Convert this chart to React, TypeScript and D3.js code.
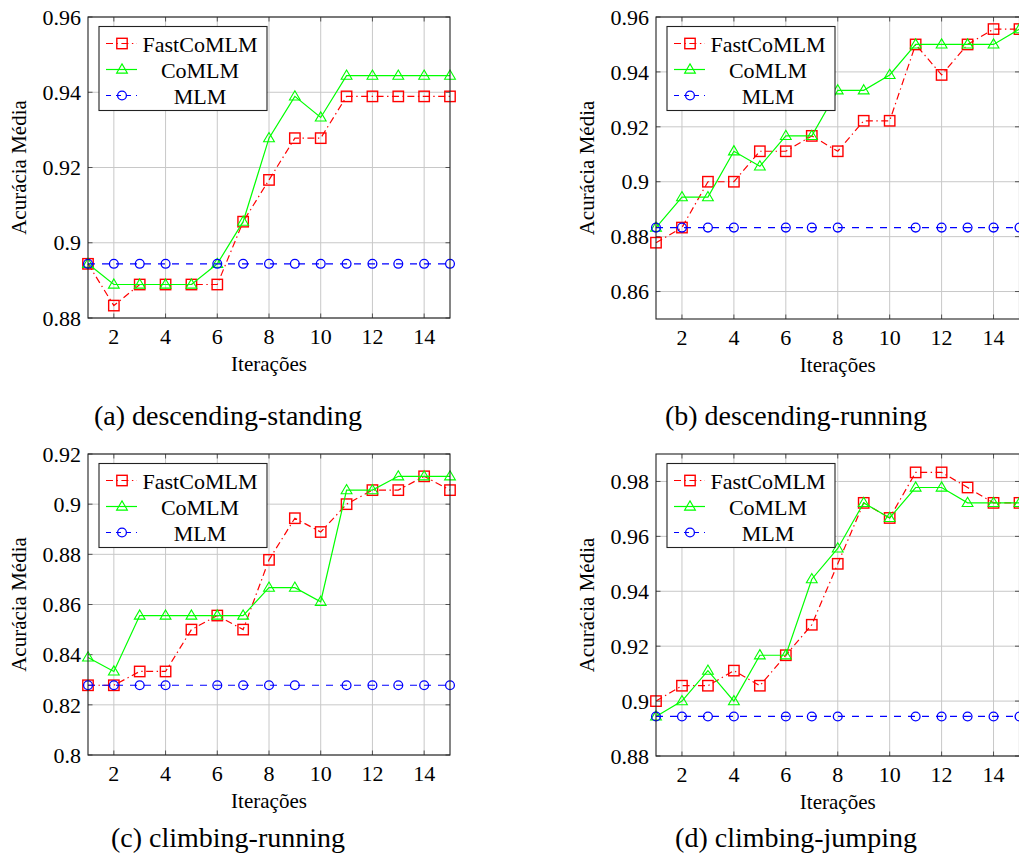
import React from "react";
import * as d3 from "d3";

const iterations = [1, 2, 3, 4, 5, 6, 7, 8, 9, 10, 11, 12, 13, 14, 15];
const xTicks = [2, 4, 6, 8, 10, 12, 14];
const seriesNames = ["FastCoMLM", "CoMLM", "MLM"];

// (a) descending-standing
const fastA = [0.8944, 0.8833, 0.8889, 0.8889, 0.8889, 0.8889, 0.9056, 0.9167, 0.9278, 0.9278, 0.9389, 0.9389, 0.9389, 0.9389, 0.9389];
const coA = [0.8944, 0.8889, 0.8889, 0.8889, 0.8889, 0.8944, 0.9056, 0.9278, 0.9389, 0.9333, 0.9444, 0.9444, 0.9444, 0.9444, 0.9444];
const mlmItersA = [1, 2, 3, 4, 6, 7, 8, 9, 10, 11, 12, 13, 14, 15];
const mlmA = [0.8944, 0.8944, 0.8944, 0.8944, 0.8944, 0.8944, 0.8944, 0.8944, 0.8944, 0.8944, 0.8944, 0.8944, 0.8944, 0.8944];
const yTicksA = [0.88, 0.9, 0.92, 0.94, 0.96];

// (b) descending-running
const fastB = [0.8778, 0.8833, 0.9, 0.9, 0.9111, 0.9111, 0.9167, 0.9111, 0.9222, 0.9222, 0.95, 0.9389, 0.95, 0.9556, 0.9556];
const coB = [0.8833, 0.8944, 0.8944, 0.9111, 0.9056, 0.9167, 0.9167, 0.9333, 0.9333, 0.9389, 0.95, 0.95, 0.95, 0.95, 0.9556];
const mlmItersB = [1, 2, 3, 4, 6, 7, 8, 11, 12, 13, 14, 15];
const mlmB = [0.8833, 0.8833, 0.8833, 0.8833, 0.8833, 0.8833, 0.8833, 0.8833, 0.8833, 0.8833, 0.8833, 0.8833];
const yTicksB = [0.86, 0.88, 0.9, 0.92, 0.94, 0.96];

// (c) climbing-running
const fastC = [0.8278, 0.8278, 0.8333, 0.8333, 0.85, 0.8556, 0.85, 0.8778, 0.8944, 0.8889, 0.9, 0.9056, 0.9056, 0.9111, 0.9056];
const coC = [0.8389, 0.8333, 0.8556, 0.8556, 0.8556, 0.8556, 0.8556, 0.8667, 0.8667, 0.8611, 0.9056, 0.9056, 0.9111, 0.9111, 0.9111];
const mlmItersC = [1, 2, 3, 4, 6, 7, 8, 9, 11, 12, 13, 14, 15];
const mlmC = [0.8278, 0.8278, 0.8278, 0.8278, 0.8278, 0.8278, 0.8278, 0.8278, 0.8278, 0.8278, 0.8278, 0.8278, 0.8278];
const yTicksC = [0.8, 0.82, 0.84, 0.86, 0.88, 0.9, 0.92];

// (d) climbing-jumping
const fastD = [0.9, 0.9056, 0.9056, 0.9111, 0.9056, 0.9167, 0.9278, 0.95, 0.9722, 0.9667, 0.9833, 0.9833, 0.9778, 0.9722, 0.9722];
const coD = [0.8944, 0.9, 0.9111, 0.9, 0.9167, 0.9167, 0.9444, 0.9556, 0.9722, 0.9667, 0.9778, 0.9778, 0.9722, 0.9722, 0.9722];
const mlmItersD = [1, 2, 3, 4, 6, 7, 8, 11, 12, 13, 14, 15];
const mlmD = [0.8944, 0.8944, 0.8944, 0.8944, 0.8944, 0.8944, 0.8944, 0.8944, 0.8944, 0.8944, 0.8944, 0.8944];
const yTicksD = [0.88, 0.9, 0.92, 0.94, 0.96, 0.98];

const captions = ["(a) descending-standing", "(b) descending-running", "(c) climbing-running", "(d) climbing-jumping"];

const FONT = '"Liberation Serif", "DejaVu Serif", "Times New Roman", serif';
const RED = "#ff0000";
const GREEN = "#00ff00";
const BLUE = "#0000ff";

type PanelSpec = {
  left: number;
  right: number;
  top: number;
  bottom: number;
  yDomain: [number, number];
  yTicks: number[];
  fast: number[];
  co: number[];
  mlmIters: number[];
  mlm: number[];
  caption: string;
  captionY: number;
  id: string;
};

const Square = ({ x, y }: { x: number; y: number }) => (
  <rect x={x - 5.2} y={y - 5.2} width={10.4} height={10.4} fill="none" stroke={RED} strokeWidth={1.4} />
);
const Triangle = ({ x, y }: { x: number; y: number }) => (
  <path d={`M${x},${y - 5.6}L${x + 5.4},${y + 3.6}L${x - 5.4},${y + 3.6}Z`} fill="none" stroke={GREEN} strokeWidth={1.1} />
);
const Circle = ({ x, y }: { x: number; y: number }) => (
  <circle cx={x} cy={y} r={4.4} fill="none" stroke={BLUE} strokeWidth={1.3} />
);

const fmt = (v: number) => String(+v.toFixed(2));
const txt = (size: number) => ({ fontFamily: FONT, fontSize: `${size}px` });

function Panel({ p }: { p: PanelSpec }) {
  const x = d3.scaleLinear().domain([1, 15]).range([p.left, p.right]);
  const y = d3.scaleLinear().domain(p.yDomain).range([p.bottom, p.top]);
  const line = d3
    .line<[number, number]>()
    .x((d) => x(d[0]))
    .y((d) => y(d[1]));
  const fastPts: [number, number][] = iterations.map((it, i) => [it, p.fast[i]]);
  const coPts: [number, number][] = iterations.map((it, i) => [it, p.co[i]]);
  const mlmPts: [number, number][] = p.mlmIters.map((it, i) => [it, p.mlm[i]]);
  const midX = (p.left + p.right) / 2;
  const midY = (p.top + p.bottom) / 2;
  const lgX = p.left + 11;
  const lgY = p.top + 9.5;
  const rows = [26, 52, 78];
  return (
    <g>
      <defs>
        <clipPath id={`clip-${p.id}`}>
          <rect x={p.left - 8} y={p.top - 8} width={p.right - p.left + 16} height={p.bottom - p.top + 16} />
        </clipPath>
      </defs>
      {xTicks.map((t) => (
        <line key={`gx${t}`} x1={x(t)} x2={x(t)} y1={p.top} y2={p.bottom} stroke="#c8c8c8" strokeWidth={1} />
      ))}
      {p.yTicks.map((t) => (
        <line key={`gy${t}`} x1={p.left} x2={p.right} y1={y(t)} y2={y(t)} stroke="#c8c8c8" strokeWidth={1} />
      ))}
      {xTicks.map((t) => (
        <g key={`tx${t}`}>
          <line x1={x(t)} x2={x(t)} y1={p.bottom} y2={p.bottom - 4.5} stroke="#444" strokeWidth={0.9} />
          <line x1={x(t)} x2={x(t)} y1={p.top} y2={p.top + 4.5} stroke="#444" strokeWidth={0.9} />
        </g>
      ))}
      {p.yTicks.map((t) => (
        <g key={`ty${t}`}>
          <line x1={p.left} x2={p.left + 4.5} y1={y(t)} y2={y(t)} stroke="#444" strokeWidth={0.9} />
          <line x1={p.right} x2={p.right - 4.5} y1={y(t)} y2={y(t)} stroke="#444" strokeWidth={0.9} />
        </g>
      ))}
      <g clipPath={`url(#clip-${p.id})`}>
        <path d={line(fastPts) || ""} fill="none" stroke={RED} strokeWidth={1.2} strokeDasharray="7 3.5 1.4 3.5" />
        {fastPts.map((d, i) => (
          <Square key={`f${i}`} x={x(d[0])} y={y(d[1])} />
        ))}
        <path d={line(coPts) || ""} fill="none" stroke={GREEN} strokeWidth={1.2} />
        {coPts.map((d, i) => (
          <Triangle key={`c${i}`} x={x(d[0])} y={y(d[1])} />
        ))}
        <path d={line(mlmPts) || ""} fill="none" stroke={BLUE} strokeWidth={1.2} strokeDasharray="7 7" />
        {mlmPts.map((d, i) => (
          <Circle key={`m${i}`} x={x(d[0])} y={y(d[1])} />
        ))}
      </g>
      <rect x={p.left} y={p.top} width={p.right - p.left} height={p.bottom - p.top} fill="none" stroke="#222" strokeWidth={1.1} />
      {xTicks.map((t) => (
        <text key={`lx${t}`} x={x(t)} y={p.bottom + 26} textAnchor="middle" style={txt(22)} fill="#000">
          {t}
        </text>
      ))}
      {p.yTicks.map((t) => (
        <text key={`ly${t}`} x={p.left - 7} y={y(t)} dy="0.35em" textAnchor="end" style={txt(22)} fill="#000">
          {fmt(t)}
        </text>
      ))}
      <text x={midX} y={p.bottom + 53} textAnchor="middle" style={txt(21)} fill="#000">
        Iterações
      </text>
      <text transform={`translate(${p.left - 62},${midY}) rotate(-90)`} textAnchor="middle" style={txt(21)} fill="#000">
        Acurácia Média
      </text>
      <rect x={lgX} y={lgY} width={168} height={84} fill="#fff" stroke="#222" strokeWidth={1.1} />
      <line x1={lgX + 7} x2={lgX + 38} y1={lgY + rows[0] - 9} y2={lgY + rows[0] - 9} stroke={RED} strokeWidth={1.2} strokeDasharray="7 3.5 1.4 3.5" />
      <Square x={lgX + 23} y={lgY + rows[0] - 9} />
      <line x1={lgX + 7} x2={lgX + 38} y1={lgY + rows[1] - 9} y2={lgY + rows[1] - 9} stroke={GREEN} strokeWidth={1.2} />
      <Triangle x={lgX + 23} y={lgY + rows[1] - 9} />
      <line x1={lgX + 7} x2={lgX + 38} y1={lgY + rows[2] - 9} y2={lgY + rows[2] - 9} stroke={BLUE} strokeWidth={1.2} strokeDasharray="5 5" />
      <Circle x={lgX + 23} y={lgY + rows[2] - 9} />
      {seriesNames.map((s, i) => (
        <text key={s} x={lgX + 101} y={lgY + rows[i] - 1} textAnchor="middle" style={txt(22)} fill="#000">
          {s}
        </text>
      ))}
      <text x={p.left + 140} y={p.captionY} textAnchor="middle" style={txt(28)} fill="#000">
        {p.caption}
      </text>
    </g>
  );
}

export default function App() {
  const panels: PanelSpec[] = [
    { id: "a", left: 88, right: 450, top: 17, bottom: 318, yDomain: [0.88, 0.96], yTicks: yTicksA, fast: fastA, co: coA, mlmIters: mlmItersA, mlm: mlmA, caption: captions[0], captionY: 425 },
    { id: "b", left: 656, right: 1019.5, top: 17, bottom: 319, yDomain: [0.85, 0.96], yTicks: yTicksB, fast: fastB, co: coB, mlmIters: mlmItersB, mlm: mlmB, caption: captions[1], captionY: 425 },
    { id: "c", left: 88, right: 450, top: 454, bottom: 755, yDomain: [0.8, 0.92], yTicks: yTicksC, fast: fastC, co: coC, mlmIters: mlmItersC, mlm: mlmC, caption: captions[2], captionY: 847 },
    { id: "d", left: 656, right: 1019.5, top: 454, bottom: 756, yDomain: [0.88, 0.99], yTicks: yTicksD, fast: fastD, co: coD, mlmIters: mlmItersD, mlm: mlmD, caption: captions[3], captionY: 847 },
  ];
  return (
    <svg width={1019} height={867} style={{ position: "absolute", left: 0, top: 0, background: "#fff", display: "block" }}>
      <rect x={0} y={0} width={1019} height={867} fill="#fff" />
      {panels.map((p) => (
        <Panel key={p.id} p={p} />
      ))}
    </svg>
  );
}
